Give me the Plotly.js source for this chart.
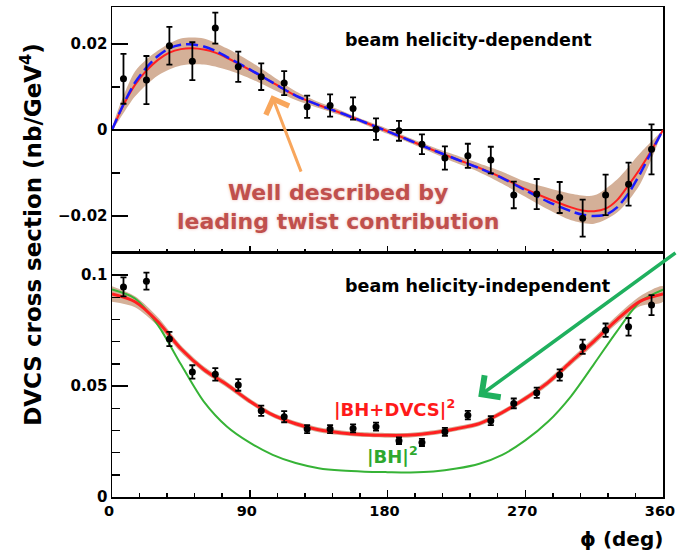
<!DOCTYPE html>
<html>
<head>
<meta charset="utf-8">
<script src="https://cdn.plot.ly/plotly-3.0.1.min.js"></script>
<style>
  html, body { margin: 0; padding: 0; background: #ffffff; }
  #chart { width: 677px; height: 552px; }
</style>
</head>
<body>
<div id="chart"></div>
<script>
// Azimuthal angle of the measured bins (deg)
const phiData = [7.5, 22.5, 37.5, 52.5, 67.5, 82.5, 97.5, 112.5, 127.5, 142.5, 157.5, 172.5,
                 187.5, 202.5, 217.5, 232.5, 247.5, 262.5, 277.5, 292.5, 307.5, 322.5, 337.5, 352.5];

// Beam helicity-dependent cross section (nb/GeV^4) and its uncertainty
const diffXsec = [0.0119, 0.0116, 0.0196, 0.0160, 0.0237, 0.0147, 0.0124, 0.0109, 0.0054, 0.0057, 0.0050, 0.0002,
                  -0.0002, -0.0033, -0.0065, -0.0060, -0.0070, -0.0151, -0.0149, -0.0157, -0.0205, -0.0151, -0.0126, -0.0045];
const diffErr = [0.0058, 0.0056, 0.0044, 0.0044, 0.0036, 0.0035, 0.0031, 0.0028, 0.0026, 0.0026, 0.0026, 0.0025,
                 0.0023, 0.0023, 0.0027, 0.0028, 0.0031, 0.0031, 0.0035, 0.0036, 0.0043, 0.0047, 0.0050, 0.0058];

// Beam helicity-independent cross section (nb/GeV^4) and its uncertainty
const sumXsec = [0.0947, 0.0973, 0.0712, 0.0564, 0.0553, 0.0505, 0.0389, 0.0362, 0.0306, 0.0306, 0.0309, 0.0317,
                 0.0254, 0.0246, 0.0294, 0.0369, 0.0344, 0.0422, 0.0470, 0.0550, 0.0677, 0.0752, 0.0767, 0.0865];
const sumErr = [0.0043, 0.0038, 0.0032, 0.0030, 0.0028, 0.0026, 0.0023, 0.0025, 0.0018, 0.0018, 0.0018, 0.0018,
                0.0015, 0.0016, 0.0018, 0.0019, 0.0020, 0.0022, 0.0023, 0.0025, 0.0032, 0.0030, 0.0040, 0.0045];

// Leading-twist fit curves for the helicity-dependent part
const phiFit = [0, 7.5, 15, 22.5, 30, 37.5, 45, 52.5, 60, 67.5, 75, 90, 105, 120, 135, 150, 165, 180,
                195, 210, 225, 240, 255, 270, 285, 300, 307.5, 315, 322.5, 330, 337.5, 345, 352.5, 360];
const fitRed = [0, 0.0058, 0.0105, 0.0138, 0.0163, 0.0180, 0.0188, 0.0190, 0.0187, 0.0180, 0.0168, 0.0140, 0.0110,
                0.0080, 0.0058, 0.0039, 0.0018, -0.0003, -0.0025, -0.0047, -0.0068, -0.0088, -0.0111, -0.0137,
                -0.0160, -0.0180, -0.0187, -0.0189, -0.0183, -0.0163, -0.0128, -0.0090, -0.0047, 0];
const fitBlue = [0, 0.0060, 0.0110, 0.0145, 0.0172, 0.0190, 0.0198, 0.0199, 0.0194, 0.0184, 0.0170, 0.0141, 0.0110,
                 0.0080, 0.0058, 0.0039, 0.0018, -0.0003, -0.0025, -0.0047, -0.0068, -0.0089, -0.0112, -0.0140,
                 -0.0167, -0.0189, -0.0197, -0.0200, -0.0197, -0.0180, -0.0147, -0.0102, -0.0050, 0];

// Uncertainty bands (every 15 deg)
const phiBand = [0, 15, 30, 45, 60, 75, 90, 105, 120, 135, 150, 165, 180,
                 195, 210, 225, 240, 255, 270, 285, 300, 315, 330, 345, 360];
const diffBandHi = [0, 0.0136, 0.0185, 0.0213, 0.0213, 0.0190, 0.0160, 0.0125, 0.0090, 0.0065, 0.0045, 0.0023, 0.0003,
                    -0.0019, -0.0040, -0.0059, -0.0078, -0.0097, -0.0120, -0.0135, -0.0148, -0.0152, -0.0115, -0.0054, 0];
const diffBandLo = [0, 0.0078, 0.0127, 0.0150, 0.0152, 0.0140, 0.0120, 0.0095, 0.0070, 0.0051, 0.0033, 0.0013, -0.0009,
                    -0.0031, -0.0054, -0.0077, -0.0098, -0.0125, -0.0155, -0.0185, -0.0210, -0.0218, -0.0192, -0.0126, 0];
const sumBandHi = [0.0950, 0.0905, 0.0810, 0.0684, 0.0589, 0.0520, 0.0444, 0.0381, 0.0341, 0.0314, 0.0300, 0.0292, 0.0289,
                   0.0290, 0.0301, 0.0319, 0.0342, 0.0392, 0.0456, 0.0531, 0.0625, 0.0720, 0.0818, 0.0905, 0.0950];
const sumBandLo = [0.0880, 0.0855, 0.0770, 0.0652, 0.0561, 0.0494, 0.0420, 0.0359, 0.0319, 0.0292, 0.0278, 0.0270, 0.0267,
                   0.0268, 0.0279, 0.0297, 0.0320, 0.0370, 0.0432, 0.0503, 0.0595, 0.0686, 0.0782, 0.0860, 0.0880];

// |BH+DVCS|^2 and |BH|^2 curves for the helicity-independent part
const sumFit = [0.0915, 0.0880, 0.0790, 0.0668, 0.0575, 0.0507, 0.0432, 0.0370, 0.0330, 0.0303, 0.0289, 0.0281, 0.0278,
                0.0279, 0.0290, 0.0308, 0.0331, 0.0381, 0.0444, 0.0517, 0.0610, 0.0703, 0.0800, 0.0882, 0.0915];
const bhOnly = [0.0935, 0.0895, 0.0775, 0.0598, 0.0430, 0.0318, 0.0245, 0.0190, 0.0153, 0.0130, 0.0119, 0.0114, 0.0112,
                0.0111, 0.0115, 0.0128, 0.0150, 0.0190, 0.0255, 0.0340, 0.0455, 0.0600, 0.0748, 0.0880, 0.0935];

const bandColor = 'rgb(212,176,152)';
const boldFont = (size, color) => ({family: 'DejaVu Sans', size: size, color: color || '#000', weight: 700});

function band(x, lo, hi, xa, ya) {
  return {
    x: x.concat(x.slice().reverse()),
    y: hi.concat(lo.slice().reverse()),
    xaxis: xa, yaxis: ya, type: 'scatter', mode: 'lines',
    fill: 'toself', fillcolor: bandColor,
    line: {width: 0, shape: 'spline', smoothing: 0.8},
    hoverinfo: 'skip', showlegend: false
  };
}

function curve(x, y, xa, ya, color, width, dash) {
  return {
    x: x, y: y, xaxis: xa, yaxis: ya, type: 'scatter', mode: 'lines',
    line: {color: color, width: width, dash: dash || 'solid', shape: 'spline', smoothing: 0.8},
    showlegend: false
  };
}

function points(y, err, xa, ya) {
  return {
    x: phiData, y: y, xaxis: xa, yaxis: ya, type: 'scatter', mode: 'markers',
    marker: {color: '#000', size: 7},
    error_y: {type: 'data', array: err, visible: true, color: '#000', thickness: 1.8, width: 3},
    showlegend: false
  };
}

const traces = [
  band(phiBand, diffBandLo, diffBandHi, 'x2', 'y2'),
  curve(phiFit, fitRed, 'x2', 'y2', '#ff2020', 2),
  curve(phiFit, fitBlue, 'x2', 'y2', '#1a1aff', 2.5, '12px,5px'),
  points(diffXsec, diffErr, 'x2', 'y2'),
  band(phiBand, sumBandLo, sumBandHi, 'x', 'y'),
  curve(phiBand, bhOnly, 'x', 'y', '#36b336', 2),
  curve(phiBand, sumFit, 'x', 'y', '#ff2020', 3),
  points(sumXsec, sumErr, 'x', 'y')
];

const frame = {
  showline: true, linecolor: '#000', linewidth: 1.5, mirror: true,
  showgrid: false, ticks: 'inside', tickcolor: '#000', tickwidth: 1.5
};

const layout = {
  width: 677, height: 552,
  margin: {l: 112, r: 14, t: 7, b: 55},
  paper_bgcolor: '#fff', plot_bgcolor: '#fff',
  showlegend: false,
  xaxis: Object.assign({}, frame, {
    anchor: 'y', range: [0, 360], tickmode: 'linear', tick0: 0, dtick: 90, ticklen: 7,
    minor: {tickmode: 'linear', tick0: 0, dtick: 18, ticks: 'inside', ticklen: 4, tickwidth: 1.5, tickcolor: '#000', showgrid: false},
    tickfont: boldFont(14.5), zeroline: false, ticklabeloverflow: 'allow', ticklabelshift: -3
  }),
  xaxis2: Object.assign({}, frame, {
    anchor: 'y2', matches: 'x', range: [0, 360], tickmode: 'linear', tick0: 0, dtick: 90, ticklen: 7,
    minor: {tickmode: 'linear', tick0: 0, dtick: 18, ticks: 'inside', ticklen: 4, tickwidth: 1.5, tickcolor: '#000', showgrid: false},
    showticklabels: false, zeroline: false
  }),
  yaxis: Object.assign({}, frame, {
    domain: [0, 0.498], range: [0, 0.11], tickmode: 'linear', tick0: 0, dtick: 0.05, ticklen: 16,
    minor: {tickmode: 'linear', tick0: 0, dtick: 0.01, ticks: 'inside', ticklen: 8, tickwidth: 1.5, tickcolor: '#000', showgrid: false},
    tickfont: boldFont(15), zeroline: false
  }),
  yaxis2: Object.assign({}, frame, {
    domain: [0.498, 1], range: [-0.0286, 0.0286], tickmode: 'linear', tick0: 0, dtick: 0.02, ticklen: 16,
    minor: {tickmode: 'linear', tick0: 0, dtick: 0.01, ticks: 'inside', ticklen: 8, tickwidth: 1.5, tickcolor: '#000', showgrid: false},
    tickfont: boldFont(15), zeroline: true, zerolinecolor: '#000', zerolinewidth: 1.5
  }),
  annotations: [
    {text: 'DVCS cross section (nb/GeV<sup>4</sup>)', xref: 'paper', yref: 'paper', x: -0.147, y: 0.535,
     xanchor: 'center', yanchor: 'middle', textangle: -90, showarrow: false, font: boldFont(23)},
    {text: 'ϕ (deg)', xref: 'paper', yref: 'paper', x: 1.004, y: -0.086,
     xanchor: 'right', yanchor: 'middle', showarrow: false, font: boldFont(20)},
    {text: 'beam helicity-dependent', xref: 'paper', yref: 'paper', x: 0.419, y: 0.933,
     xanchor: 'left', yanchor: 'middle', showarrow: false, font: boldFont(17.5)},
    {text: 'beam helicity-independent', xref: 'paper', yref: 'paper', x: 0.419, y: 0.43,
     xanchor: 'left', yanchor: 'middle', showarrow: false, font: boldFont(17.5)},
    {text: 'Well described by<br>leading twist contribution', xref: 'paper', yref: 'paper', x: 0.41, y: 0.592,
     xanchor: 'center', yanchor: 'middle', align: 'center', showarrow: false,
     font: {family: 'DejaVu Sans', size: 22, color: '#c0504d', weight: 700, shadow: '0 0 3px rgba(235,170,160,0.9)'}},
    {text: '', xref: 'x2', yref: 'y2', x: 104.3, y: 0.0081, ax: 30, ay: 78,
     showarrow: true, arrowhead: 4, arrowsize: 1.6, arrowwidth: 3, arrowcolor: '#f8a65c'},
    {text: '|BH+DVCS|<sup>2</sup>', xref: 'paper', yref: 'paper', x: 0.399, y: 0.182,
     xanchor: 'left', yanchor: 'middle', showarrow: false, font: boldFont(18, '#ff1a1a')},
    {text: '|BH|<sup>2</sup>', xref: 'paper', yref: 'paper', x: 0.459, y: 0.086,
     xanchor: 'left', yanchor: 'middle', showarrow: false, font: boldFont(18, '#2ea82e')},
    {text: '', xref: 'x', yref: 'y', x: 239.3, y: 0.0452, ax: 222, ay: -145,
     showarrow: true, arrowhead: 4, arrowsize: 1.5, arrowwidth: 3.5, arrowcolor: '#1fb05e'}
  ]
};

Plotly.newPlot('chart', traces, layout, {staticPlot: true, displayModeBar: false});
</script>
</body>
</html>
